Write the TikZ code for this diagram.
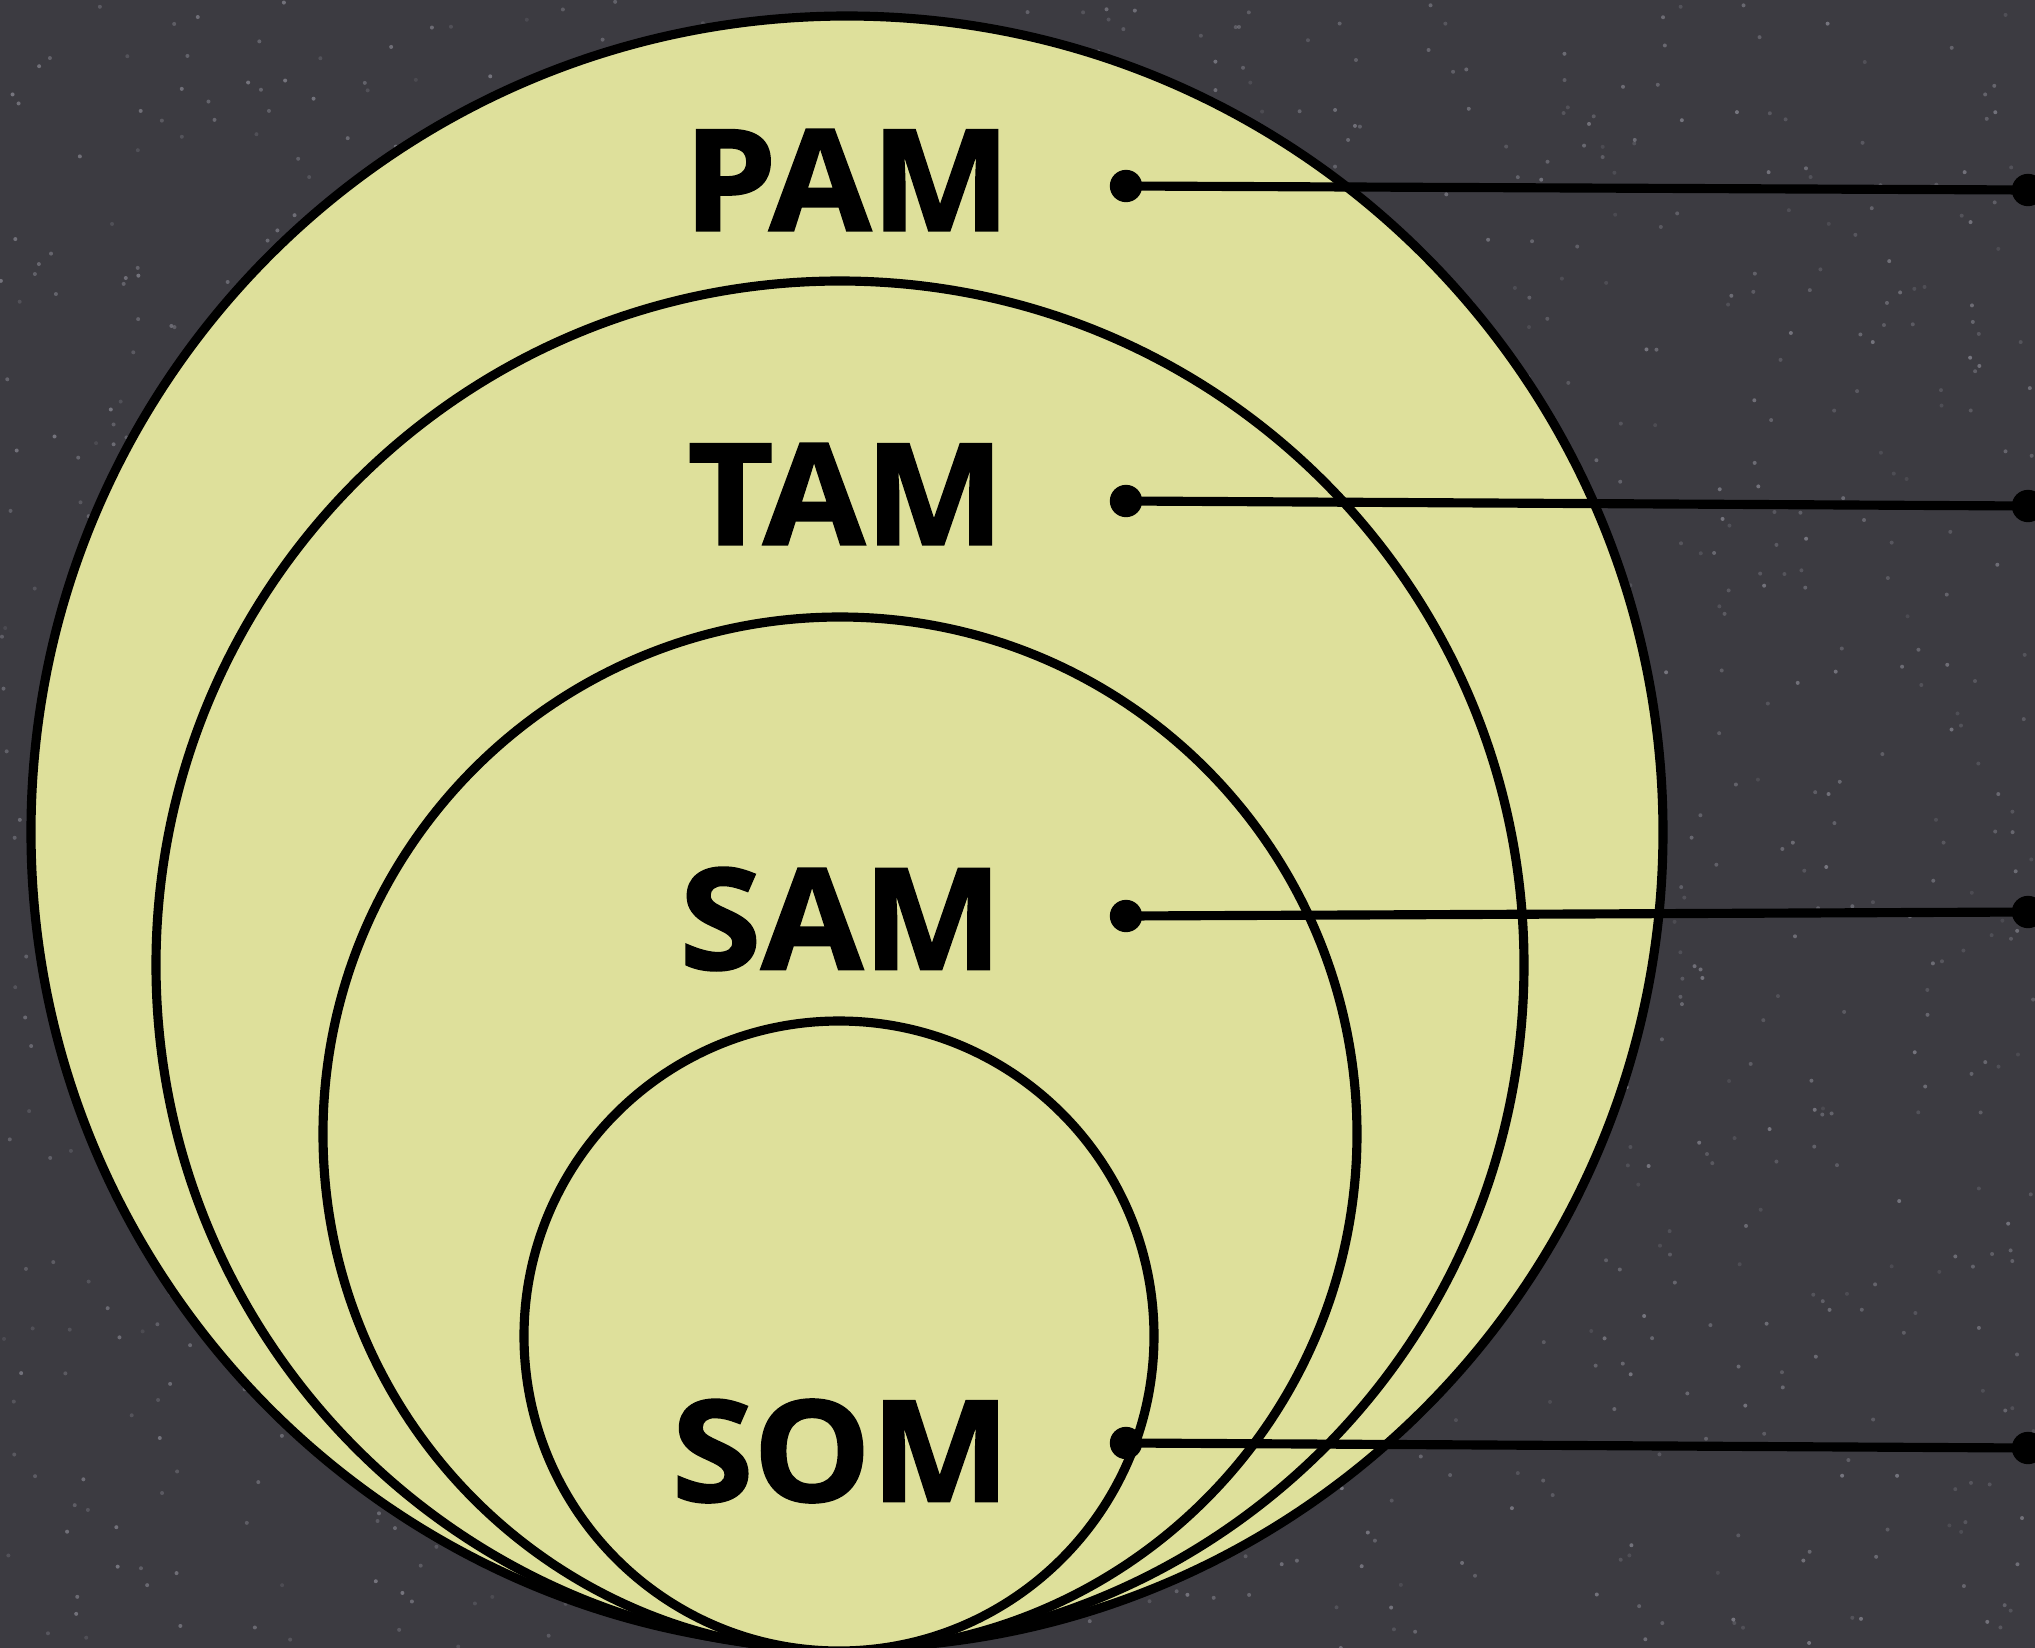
\documentclass[tikz,border=0pt]{standalone}
\usepackage{fontspec}
\setmainfont{Open Sans}
\newfontfamily\lblfont[FakeStretch=1.05,FakeBold=1.6]{Open Sans}
\definecolor{board}{HTML}{3C3B41}
\definecolor{disk}{HTML}{DEE09B}
\definecolor{chalk}{HTML}{B8B8C4}
\begin{document}
\begin{tikzpicture}[x=0.01cm,y=-0.01cm,
  ring/.style={draw=black,fill=disk,line width=2.6pt},
  lbl/.style={font=\lblfont\fontsize{40}{40}\selectfont\bfseries,inner sep=0pt,text=black},
  dotnode/.style={circle,fill=black,inner sep=0pt,minimum size=9.2pt},
  link/.style={line width=2.6pt}]
\useasboundingbox (0,0) rectangle (2035,1648);
\clip (0,0) rectangle (2035,1648);
\fill[board] (0,0) rectangle (2035,1648);
% chalkboard speckle
\pgfmathsetseed{42}
\foreach \i in {1,...,1400}{
  \pgfmathsetmacro{\px}{rnd*2035}
  \pgfmathsetmacro{\py}{rnd*1648}
  \pgfmathsetmacro{\op}{0.12+0.35*rnd}
  \fill[chalk,opacity=\op] (\px,\py) circle[radius=2];
}
% nested circles
\draw[ring] (847,832) circle[radius=816];
\draw[ring] (840,965) circle[radius=684];
\draw[ring] (840,1134) circle[radius=517];
\draw[ring] (839,1336) circle[radius=315];
% labels
\node[lbl] (pam) at (847,180) {PAM};
\node[lbl] (tam) at (846,494) {TAM};
\node[lbl] (sam) at (841,919) {SAM};
\node[lbl] (som) at (841,1451) {SOM};
% dots
\node[dotnode] (pa) at (1126,186) {};
\node[dotnode] (pb) at (2028,190) {};
\node[dotnode] (ta) at (1126,501) {};
\node[dotnode] (tb) at (2028,506) {};
\node[dotnode] (sa) at (1126,916) {};
\node[dotnode] (sb) at (2028,912) {};
\node[dotnode] (oa) at (1126,1443) {};
\node[dotnode] (ob) at (2028,1448) {};
% connectors
\draw[link] (pa.center) -- (pb.center);
\draw[link] (ta.center) -- (tb.center);
\draw[link] (sa.center) -- (sb.center);
\draw[link] (oa.center) -- (ob.center);
\end{tikzpicture}
\end{document}
